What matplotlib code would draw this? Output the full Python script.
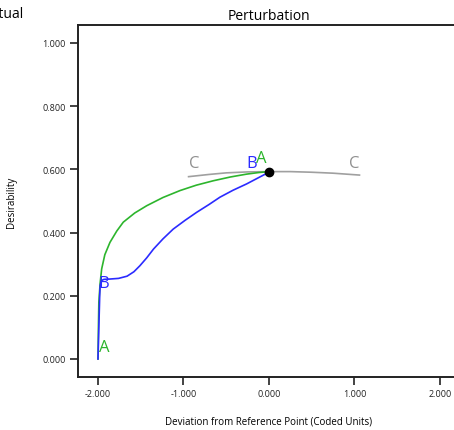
import numpy as np
import matplotlib.pyplot as plt

plt.rcParams['font.family'] = ['Open Sans', 'DejaVu Sans']

# traces (deviation, desirability)
a_x = [-2.0, -1.995, -1.99, -1.975, -1.957, -1.92, -1.86, -1.78, -1.704, -1.57, -1.43, -1.24, -1.04, -0.85, -0.651, -0.45, -0.261, -0.12, 0.0]
a_y = [0.0, 0.10, 0.18, 0.24, 0.285, 0.33, 0.369, 0.405, 0.433, 0.462, 0.485, 0.511, 0.533, 0.550, 0.564, 0.576, 0.585, 0.590, 0.593]

b_x = [-2.0, -1.99, -1.98, -1.975, -1.96, -1.93, -1.86, -1.76, -1.66, -1.58, -1.51, -1.43, -1.35, -1.24, -1.12, -0.98, -0.846, -0.70, -0.573, -0.42, -0.261, -0.12, 0.0]
b_y = [0.0, 0.10, 0.20, 0.232, 0.248, 0.252, 0.253, 0.255, 0.262, 0.276, 0.295, 0.320, 0.348, 0.380, 0.411, 0.439, 0.464, 0.489, 0.512, 0.534, 0.554, 0.574, 0.591]

c_x = [-0.94, -0.7, -0.5, -0.25, 0.0, 0.25, 0.5, 0.75, 1.06]
c_y = [0.577, 0.584, 0.589, 0.592, 0.593, 0.593, 0.591, 0.588, 0.582]

ref_x, ref_y = 0.0, 0.593

x_ticks = [-2.0, -1.0, 0.0, 1.0, 2.0]
y_ticks = [0.0, 0.2, 0.4, 0.6, 0.8, 1.0]

fig = plt.figure(figsize=(4.54, 4.31), dpi=100)
ax = fig.add_axes([0.1718, 0.123, 0.841, 0.8167])

ax.plot(c_x, c_y, color='#a0a0a0', lw=1.2)
ax.plot(a_x, a_y, color='#2db52d', lw=1.2)
ax.plot(b_x, b_y, color='#2b2bff', lw=1.2)
ax.plot([ref_x], [ref_y], 'o', color='black', ms=6, zorder=5)

# curve letters
ax.text(-0.87, 0.62, 'C', color='#909090', fontsize=12, ha='center', va='center')
ax.text(1.0, 0.62, 'C', color='#909090', fontsize=12, ha='center', va='center')
ax.text(-0.2, 0.62, 'B', color='#2b2bff', fontsize=12, ha='center', va='center')
ax.text(-0.09, 0.635, 'A', color='#2db52d', fontsize=12, ha='center', va='center')
ax.text(-1.93, 0.242, 'B', color='#2b2bff', fontsize=12, ha='center', va='center')
ax.text(-1.93, 0.038, 'A', color='#2db52d', fontsize=12, ha='center', va='center')

ax.set_xlim(-2.234, 2.234)
ax.set_ylim(-0.057, 1.057)
ax.set_xticks(x_ticks)
ax.set_yticks(y_ticks)
ax.set_xticklabels([f'{v:.3f}' for v in x_ticks])
ax.set_yticklabels([f'{v:.3f}' for v in y_ticks])
ax.tick_params(direction='out', length=6, width=1.2, labelsize=6.5,
               colors='#222222', pad=3)
for s in ax.spines.values():
    s.set_linewidth(1.4)
    s.set_color('#222222')

ax.set_title('Perturbation', fontsize=10, pad=4)
ax.set_xlabel('Deviation from Reference Point (Coded Units)', fontsize=7, labelpad=12)
ax.set_ylabel('Desirability', fontsize=7, labelpad=18)
fig.text(0.051, 0.967, 'Actual', fontsize=10, ha='right', va='center')

fig.savefig('out.png', dpi=100)
